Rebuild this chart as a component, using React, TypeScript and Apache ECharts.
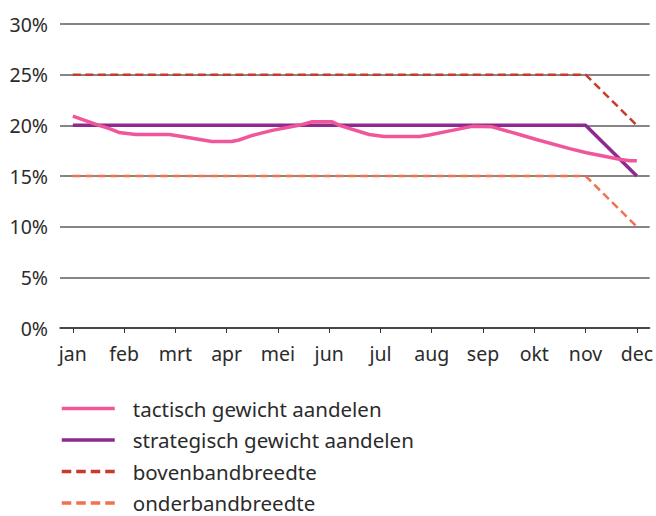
import React, { useEffect, useRef } from "react";
import * as echarts from "echarts";

const months = ["jan", "feb", "mrt", "apr", "mei", "jun", "jul", "aug", "sep", "okt", "nov", "dec"];
const yTicks = [0, 5, 10, 15, 20, 25, 30];

// [month index, %]
const tactisch: [number, number][] = [
  [0, 20.9], [0.51, 20.0], [0.7, 19.7], [0.9, 19.3], [1.23, 19.1], [1.88, 19.1],
  [2.07, 18.95], [2.71, 18.4], [3.1, 18.4], [3.24, 18.55], [3.5, 19.0], [3.89, 19.5],
  [4.41, 20.0], [4.67, 20.35], [5.06, 20.35], [5.2, 20.0], [5.78, 19.1], [6.07, 18.9],
  [6.76, 18.9], [6.95, 19.05], [7.4, 19.5], [7.79, 19.9], [8.18, 19.85], [8.71, 19.1],
  [9.04, 18.6], [9.69, 17.7], [10.02, 17.3], [10.66, 16.65], [10.86, 16.5], [11, 16.5],
];
const strategisch: [number, number][] = [[0, 20], [10, 20], [11, 15]];
const boven: [number, number][] = [[0, 25], [10, 25], [11, 20]];
const onder: [number, number][] = [[0, 15], [10, 15], [11, 10]];

const FONT = "Noto Sans";
const TEXT = "#2b2b2b";

export default function App() {
  const ref = useRef<HTMLDivElement>(null);
  useEffect(() => {
    const chart = echarts.init(ref.current!, null, { renderer: "svg" });
    chart.setOption({
      animation: false,
      textStyle: { fontFamily: FONT },
      grid: { left: 60, right: 6, top: 24, height: 304, containLabel: false },
      xAxis: {
        type: "value",
        min: -0.25,
        max: 11.25,
        axisLine: { show: true, lineStyle: { color: "#333", width: 1.5 } },
        axisTick: {
          show: true,
          length: 5,
          lineStyle: { color: "#333", width: 1 },
          customValues: months.map((_, i) => i),
        },
        axisLabel: {
          customValues: months.map((_, i) => i),
          formatter: (v: number) => months[Math.round(v)] ?? "",
          fontSize: 19.5,
          color: TEXT,
          margin: 15,
          fontFamily: FONT,
        },
        splitLine: { show: false },
      },
      yAxis: {
        type: "value",
        min: 0,
        max: 30,
        interval: 5,
        axisLine: { show: false },
        axisTick: { show: false },
        axisLabel: {
          customValues: yTicks,
          formatter: "{value}%",
          fontSize: 19.5,
          color: TEXT,
          margin: 12,
          fontFamily: FONT,
        },
        splitLine: { show: true, lineStyle: { color: "#858585", width: 1.8 } },
      },
      legend: {
        orient: "vertical",
        left: 60,
        top: 398,
        height: 118,
        padding: 0,
        itemWidth: 53,
        itemHeight: 14,
        itemGap: 10.5,
        itemStyle: { opacity: 0, borderWidth: 0 },
        lineStyle: { width: 3.5 },
        textStyle: { fontSize: 20.5, color: TEXT, fontFamily: FONT, padding: [0, 0, 0, 13] },
        data: [
          { name: "tactisch gewicht aandelen" },
          { name: "strategisch gewicht aandelen" },
          { name: "bovenbandbreedte", lineStyle: { width: 3.5, type: [9.5, 5] } },
          { name: "onderbandbreedte", lineStyle: { width: 3.5, type: [9.5, 5] } },
        ],
      },
      series: [
        {
          name: "bovenbandbreedte",
          type: "line",
          data: boven,
          symbol: "none",
          lineStyle: { color: "#c83a2a", width: 2.5, type: [8, 4.5] },
          itemStyle: { color: "#c83a2a" },
          z: 2,
        },
        {
          name: "onderbandbreedte",
          type: "line",
          data: onder,
          symbol: "none",
          lineStyle: { color: "#f0724e", width: 2.5, type: [8, 4.5] },
          itemStyle: { color: "#f0724e" },
          z: 2,
        },
        {
          name: "strategisch gewicht aandelen",
          type: "line",
          data: strategisch,
          symbol: "none",
          lineStyle: { color: "#8e2a8f", width: 3.5 },
          itemStyle: { color: "#8e2a8f" },
          z: 3,
        },
        {
          name: "tactisch gewicht aandelen",
          type: "line",
          data: tactisch,
          symbol: "none",
          lineStyle: { color: "#f0579a", width: 3.5 },
          itemStyle: { color: "#f0579a" },
          z: 4,
        },
      ],
    });
    return () => chart.dispose();
  }, []);
  return (
    <div
      ref={ref}
      style={{ position: "absolute", left: 0, top: 0, width: 656, height: 516 }}
    />
  );
}
